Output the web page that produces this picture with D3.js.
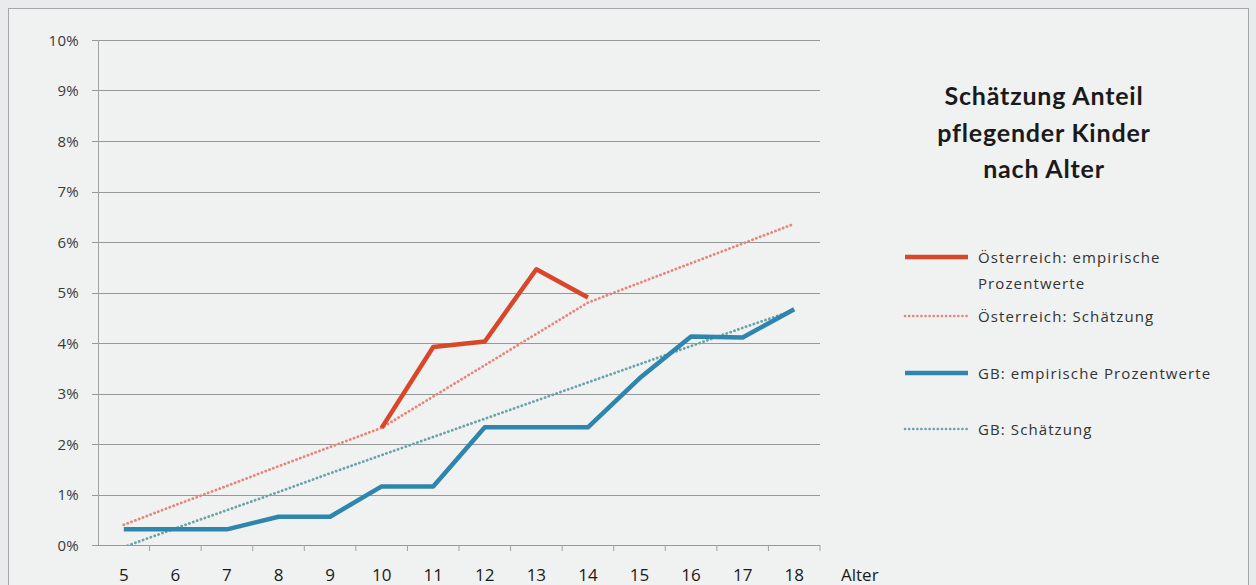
<!DOCTYPE html>
<html><head><meta charset="utf-8">
<script src="https://cdn.jsdelivr.net/npm/d3@7"></script>
<style>
html,body{margin:0;padding:0;background:#e8ebeb;}
svg{display:block;}
</style></head>
<body>
<script>
const ages = [5,6,7,8,9,10,11,12,13,14,15,16,17,18];
const atEmpAges = [10,11,12,13,14];
const atEmp = [2.32,3.92,4.03,5.46,4.9];
const atEst = [0.40,0.79,1.17,1.56,1.94,2.32,2.94,3.56,4.18,4.8,5.19,5.58,5.97,6.36];
const gbEmp = [0.31,0.31,0.31,0.56,0.56,1.16,1.16,2.33,2.33,2.33,3.3,4.13,4.11,4.67];
const gbEst = [-0.04,0.33,0.69,1.05,1.42,1.78,2.14,2.5,2.86,3.22,3.58,3.94,4.3,4.65];
const yTicks = [0,1,2,3,4,5,6,7,8,9,10];
const titleLines = ["Schätzung Anteil","pflegender Kinder","nach Alter"];
const legendItems = [
  {lines:["Österreich: empirische","Prozentwerte"], color:"#d9472b", dash:null},
  {lines:["Österreich: Schätzung"], color:"#e7857a", dash:"0.1 4"},
  {lines:["GB: empirische Prozentwerte"], color:"#2e85ad", dash:null},
  {lines:["GB: Schätzung"], color:"#6aa3a8", dash:"0.1 4"}
];

(function(){
const W=1256,H=585;
const svg=d3.select("body").append("svg").attr("width",W).attr("height",H);
svg.append("rect").attr("x",0).attr("y",0).attr("width",W).attr("height",H).attr("fill","#e9ecec");
svg.append("rect").attr("x",8.5).attr("y",8.5).attr("width",1240).attr("height",590)
  .attr("fill","#f0f1f1").attr("stroke","#a5a8a8").attr("stroke-width",1);

const pL=98,pR=820,pT=40,pB=545;
const x=d3.scaleBand().domain(ages).range([pL,pR]);
const y=d3.scaleLinear().domain([0,10]).range([pB,pT]);
const cx=a=>x(a)+x.bandwidth()/2;

// gridlines
svg.append("g").selectAll("line").data(yTicks).join("line")
  .attr("x1",pL-6).attr("x2",pR).attr("y1",d=>Math.round(y(d))+0.5).attr("y2",d=>Math.round(y(d))+0.5)
  .attr("stroke","#969999").attr("stroke-width",1.2);
// y axis line
svg.append("line").attr("x1",pL+0.5).attr("x2",pL+0.5).attr("y1",pT).attr("y2",pB)
  .attr("stroke","#a0a3a3").attr("stroke-width",1);
// y labels
svg.append("g").selectAll("text").data(yTicks).join("text")
  .attr("x",79).attr("y",d=>y(d)+5.5).attr("text-anchor","end")
  .attr("font-family","Open Sans, sans-serif").attr("font-size",15).attr("letter-spacing",0.3).attr("fill","#3a3a3a")
  .text(d=>d+"%");
// x axis labels
const xAxis=d3.axisBottom(x).tickSize(0).tickFormat(d=>d);
const gx=svg.append("g").attr("transform",`translate(0,${pB})`).call(xAxis);
gx.select(".domain").remove();
gx.selectAll("text").attr("font-family","Open Sans, sans-serif").attr("font-size",17).attr("fill","#1a1a1a")
  .attr("dy",null).attr("y",36);
// ticks at band boundaries
svg.append("g").selectAll("line").data(ages.slice(1).concat(["end"])).join("line")
  .attr("x1",d=>d==="end"?pR:x(d)).attr("x2",d=>d==="end"?pR:x(d))
  .attr("y1",pB).attr("y2",pB+6).attr("stroke","#a0a3a3");
svg.append("text").attr("x",841).attr("y",581).attr("font-family","Open Sans, sans-serif")
  .attr("font-size",17).attr("fill","#1a1a1a").text("Alter");

// clip
svg.append("clipPath").attr("id","plot").append("rect").attr("x",pL).attr("y",pT).attr("width",pR-pL).attr("height",pB-pT);
const plot=svg.append("g").attr("clip-path","url(#plot)");
const line=d3.line().x(d=>cx(d[0])).y(d=>y(d[1]));

plot.append("path").datum(ages.map((a,i)=>[a,atEst[i]])).attr("d",line).attr("fill","none")
  .attr("stroke","#e7857a").attr("stroke-width",2.8).attr("stroke-dasharray","0.1 4").attr("stroke-linecap","round");
plot.append("path").datum(ages.map((a,i)=>[a,gbEst[i]])).attr("d",line).attr("fill","none")
  .attr("stroke","#6aa3a8").attr("stroke-width",2.8).attr("stroke-dasharray","0.1 4").attr("stroke-linecap","round");
plot.append("path").datum(ages.map((a,i)=>[a,gbEmp[i]])).attr("d",line).attr("fill","none")
  .attr("stroke","#2e85ad").attr("stroke-width",4.5).attr("stroke-linejoin","round");
plot.append("path").datum(atEmpAges.map((a,i)=>[a,atEmp[i]])).attr("d",line).attr("fill","none")
  .attr("stroke","#d9472b").attr("stroke-width",4.5).attr("stroke-linejoin","round");

// title
svg.append("g").selectAll("text").data(titleLines).join("text")
  .attr("x",1044).attr("y",(d,i)=>105+i*36.5).attr("text-anchor","middle")
  .attr("font-family","Lato, sans-serif").attr("font-weight","bold").attr("font-size",25)
  .attr("letter-spacing",0.8).attr("fill","#1a1a1a")
  .text(d=>d);

// legend
const legY=[257,316,373,429];
const lg=svg.append("g");
legendItems.forEach((it,i)=>{
  lg.append("line").attr("x1",905).attr("x2",968).attr("y1",legY[i]).attr("y2",legY[i])
    .attr("stroke",it.color).attr("stroke-width",it.dash?2.6:4.5)
    .attr("stroke-dasharray",it.dash).attr("stroke-linecap",it.dash?"round":"butt");
  it.lines.forEach((t,j)=>{
    lg.append("text").attr("x",978).attr("y",legY[i]+5.5+j*26)
      .attr("font-family","Open Sans, sans-serif").attr("font-size",15).attr("letter-spacing",1.1)
      .attr("fill","#333").text(t);
  });
});
})();
</script>
</body></html>
